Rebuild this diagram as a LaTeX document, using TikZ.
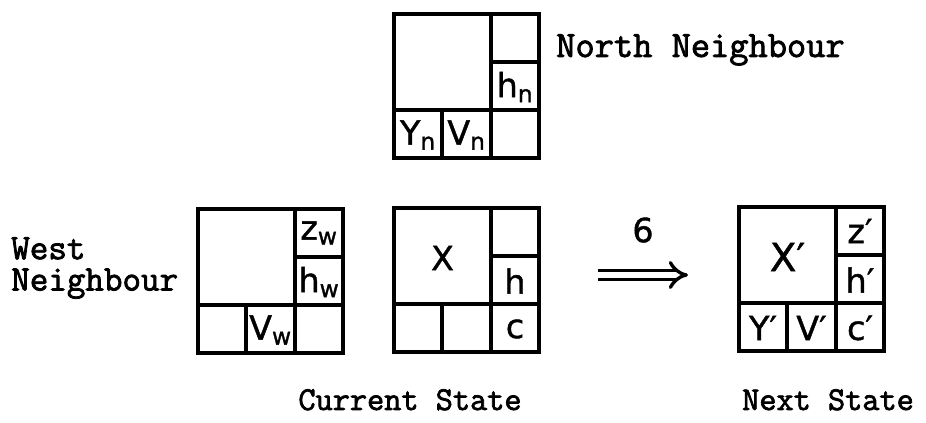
\documentclass[tikz,border=0pt]{standalone}
\usepackage{fontspec}
\newfontfamily\typefont{Latin Modern Mono}[FakeBold=2.2]
\newfontfamily\handfont{DejaVu Sans}[FakeBold=1.2]
\usetikzlibrary{positioning,arrows.meta}
\tikzset{
  gridline/.style={draw,line width=2.6pt},
  celltext/.style={font=\handfont\fontsize{25}{25}\selectfont,inner sep=0pt},
  tagtext/.style={font=\typefont\fontsize{28}{21}\selectfont,inner sep=0pt},
  implies/.style={double,line width=2.5pt,double distance=4.5pt,-{Implies[scale=1.3]}},
  statebox/.pic={
    \draw[gridline] (0,0) rectangle (145,144);
    \draw[gridline] (97,0) -- (97,144);
    \draw[gridline] (0,96) -- (145,96);
    \draw[gridline] (97,48) -- (145,48);
    \draw[gridline] (48,96) -- (48,144);
    \coordinate (-x) at (48.5,50);
    \coordinate (-z) at (121,24);
    \coordinate (-h) at (121,73);
    \coordinate (-y) at (24,121);
    \coordinate (-v) at (72.5,121);
    \coordinate (-c) at (121,121);
  }
}
\begin{document}
\begin{tikzpicture}[x=0.75pt,y=-0.75pt]
  \useasboundingbox (0,0) rectangle (926,423);

  % the four cells
  \pic (north) at (394,14) {statebox};
  \pic (west) at (198,209) {statebox};
  \pic (cur) at (394,208) {statebox};
  \pic (next) at (739,207) {statebox};

  % contents
  \node[celltext] (hn) at (north-h) {h\textsubscript{n}};
  \node[celltext] (yn) at (north-y) {Y\textsubscript{n}};
  \node[celltext] (vn) at (north-v) {V\textsubscript{n}};
  \node[celltext] (zw) at (west-z) {z\textsubscript{w}};
  \node[celltext] (hw) at (west-h) {h\textsubscript{w}};
  \node[celltext] (vw) at (west-v) {V\textsubscript{w}};
  \node[celltext] (x) at (cur-x) {X};
  \node[celltext] (h) at (cur-h) {h};
  \node[celltext] (c) at (cur-c) {c};
  \node[celltext,font=\handfont\fontsize{29}{29}\selectfont] (xp) at (next-x) {X′};
  \node[celltext] (zp) at (next-z) {z′};
  \node[celltext] (hp) at (next-h) {h′};
  \node[celltext] (yp) at (next-y) {Y′};
  \node[celltext] (vp) at (next-v) {V′};
  \node[celltext] (cp) at (next-c) {c′};

  % captions
  \node[tagtext,anchor=base west] (northlbl) at (556,57) {North Neighbour};
  \node[tagtext,anchor=west,align=left,font=\typefont\fontsize{27}{23.5}\selectfont] (westlbl) at (11,268) {West\\Neighbour};
  \node[tagtext,anchor=base,font=\typefont\fontsize{25}{25}\selectfont] (curlbl) at (410,410) {Current State};
  \node[tagtext,anchor=base,font=\typefont\fontsize{25}{25}\selectfont] (nextlbl) at (828,410) {Next State};

  % transition
  \coordinate (from) at (598,275);
  \coordinate (to) at (688,275);
  \draw[implies] (from) -- (to) node[celltext,midway,above=23pt] (sigma) {6};

\end{tikzpicture}
\end{document}
